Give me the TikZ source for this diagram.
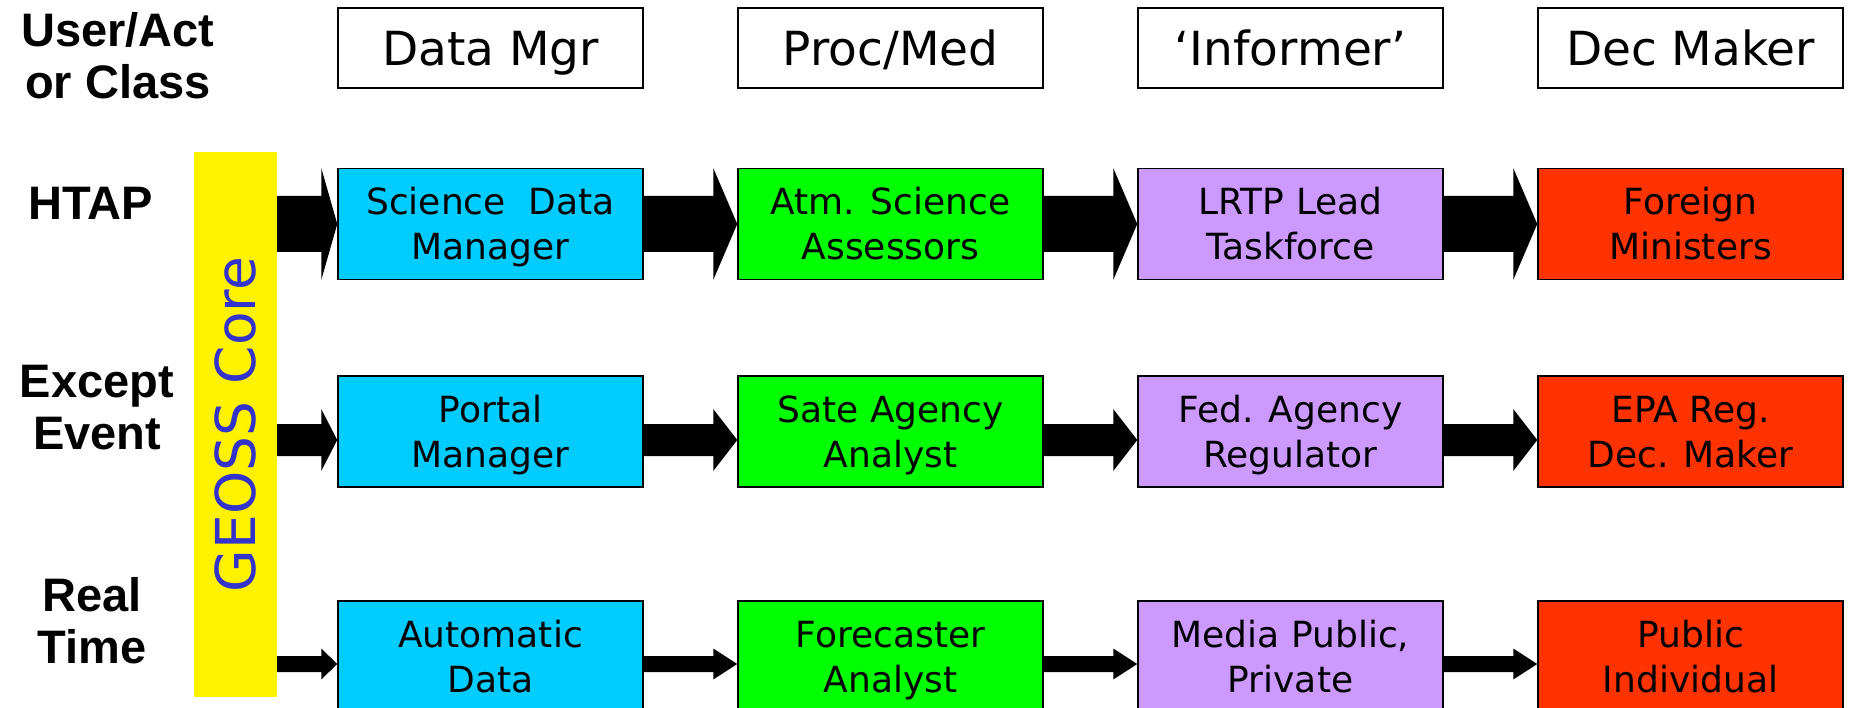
\documentclass[tikz,border=0pt]{standalone}
\usepackage{fontspec}
\setmainfont{DejaVu Sans}
\newfontfamily\labelfont{Liberation Sans}
\usetikzlibrary{calc}

\definecolor{dmblue}{RGB}{0,204,255}
\definecolor{pmgreen}{RGB}{0,255,0}
\definecolor{infpurple}{RGB}{204,153,255}
\definecolor{decred}{RGB}{255,51,0}
\definecolor{geossblue}{RGB}{51,51,204}

\tikzset{
    box/.style={draw=black, line width=1.5pt, minimum width=305pt, minimum height=111pt,
        inner sep=0pt, align=center, font={\fontsize{36}{45}\selectfont},
        text height=80pt, text depth=9pt},
    header/.style={box, minimum height=80pt, font={\fontsize{47}{55}\selectfont},
        text height=45pt, text depth=10pt},
    rowlabel/.style={align=center, font={\labelfont\bfseries\fontsize{47}{52}\selectfont}},
    datamgr/.style={box, fill=dmblue},
    procmed/.style={box, fill=pmgreen},
    informer/.style={box, fill=infpurple},
    decmaker/.style={box, fill=decred}
}

% block arrow: from, to, row, shaft, head, head length
\newcommand{\flowarrow}[6]{%
    \fill ($(#1.east |- #3)+(0,-#4/2)$) -- ($(#2.west |- #3)+(-#6,-#4/2)$)
        -- ($(#2.west |- #3)+(-#6,-#5/2)$) -- (#2.west |- #3)
        -- ($(#2.west |- #3)+(-#6,#5/2)$) -- ($(#2.west |- #3)+(-#6,#4/2)$)
        -- ($(#1.east |- #3)+(0,#4/2)$) -- cycle;}

\begin{document}
\begin{tikzpicture}[x=1pt,y=-1pt]
    \useasboundingbox (0,0) rectangle (1850,708);

    % Headers
    \node[rowlabel] (actor) at (118,56) {User/Act\\or Class};
    \node[header] (hdm) at (490.5,48) {Data Mgr};
    \node[header] (hpm) at (890.5,48) {Proc/Med};
    \node[header] (hinf) at (1290.5,48) {‘Informer’};
    \node[header] (hdec) at (1690.5,48) {Dec Maker};

    % Row labels
    \node[rowlabel] (htap) at (91,203) {HTAP};
    \node[rowlabel] (except) at (97,408) {Except\\Event};
    \node[rowlabel] (realtime) at (92,621) {Real\\Time};

    % GEOSS core bar
    \node[fill=yellow, minimum width=83pt, minimum height=545pt, inner sep=0pt] (geoss) at (235.5,424.5) {};
    \node[rotate=90, text=geossblue, font={\fontsize{55}{60}\selectfont}] (geosslabel) at (geoss.center) {GEOSS Core};

    % Row coordinates for the arrows
    \coordinate (r1) at (0,224);
    \coordinate (r2) at (0,440);
    \coordinate (r3) at (0,664);

    % HTAP
    \node[datamgr] (sdm) at (490.5,224) {Science\ \ Data\\Manager};
    \node[procmed] (asa) at (890.5,224) {Atm. Science\\Assessors};
    \node[informer] (lrtp) at (1290.5,224) {LRTP Lead\\Taskforce};
    \node[decmaker] (fm) at (1690.5,224) {Foreign\\Ministers};

    % Exceptional event
    \node[datamgr] (pman) at (490.5,431.5) {Portal\\Manager};
    \node[procmed] (saa) at (890.5,431.5) {Sate Agency\\Analyst};
    \node[informer] (fed) at (1290.5,431.5) {Fed. Agency\\Regulator};
    \node[decmaker] (epa) at (1690.5,431.5) {EPA Reg.\\Dec. Maker};

    % Real time
    \node[datamgr] (auto) at (490.5,656.5) {Automatic\\Data};
    \node[procmed] (fca) at (890.5,656.5) {Forecaster\\Analyst};
    \node[informer] (media) at (1290.5,656.5) {Media Public,\\Private};
    \node[decmaker] (pub) at (1690.5,656.5) {Public\\Individual};

    % Arrows
    \flowarrow{geoss}{sdm}{r1}{56}{112}{16}
    \flowarrow{sdm}{asa}{r1}{56}{112}{24}
    \flowarrow{asa}{lrtp}{r1}{56}{112}{24}
    \flowarrow{lrtp}{fm}{r1}{56}{112}{24}

    \flowarrow{geoss}{pman}{r2}{32}{62}{16}
    \flowarrow{pman}{saa}{r2}{32}{62}{24}
    \flowarrow{saa}{fed}{r2}{32}{62}{24}
    \flowarrow{fed}{epa}{r2}{32}{62}{24}

    \flowarrow{geoss}{auto}{r3}{16}{31}{16}
    \flowarrow{auto}{fca}{r3}{16}{31}{24}
    \flowarrow{fca}{media}{r3}{16}{31}{24}
    \flowarrow{media}{pub}{r3}{16}{31}{24}
\end{tikzpicture}
\end{document}
